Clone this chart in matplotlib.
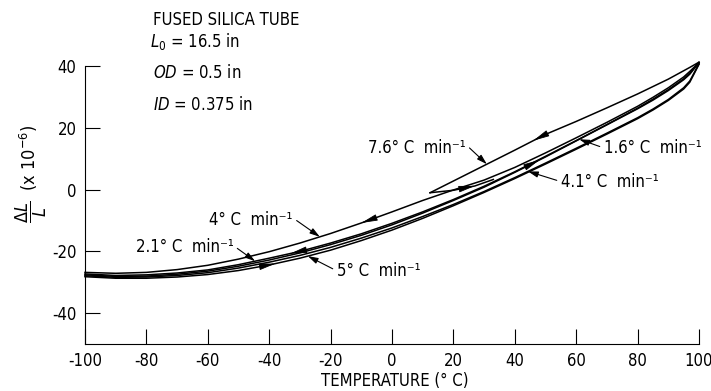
import matplotlib
matplotlib.use("Agg")
import matplotlib.pyplot as plt
import numpy as np

plt.rcParams['font.family'] = ['DejaVu Sans']
plt.rcParams['font.stretch'] = 'condensed'

# temperature grid (deg C)
temp = [-100, -90, -80, -70, -60, -50, -40, -30, -20, -10, 0,
        10, 20, 30, 40, 50, 60, 70, 80, 85, 90, 95, 97, 100]

# strain dL/L (x 1e-6) for each run
heat_41 = [-27.9, -28.4, -28.3, -27.8, -26.9, -25.4, -23.5, -21.3, -18.7, -15.7, -12.4,
           -8.7, -4.8, -0.6, 3.9, 8.6, 13.4, 18.3, 23.3, 26.1, 29.2, 33.0, 35.2, 40.8]
heat_16 = [-27.6, -28.1, -28.0, -27.4, -26.4, -24.8, -22.8, -20.5, -17.8, -14.8, -11.4,
           -7.6, -3.5, 0.8, 5.6, 10.6, 15.8, 21.0, 26.2, 29.0, 32.1, 35.6, 37.4, 41.1]
heat_5 = [-28.2, -28.7, -28.7, -28.3, -27.5, -26.2, -24.4, -22.2, -19.6, -16.5, -13.1,
          -9.3, -5.2, -0.9, 3.6, 8.3, 13.1, 18.0, 23.0, 25.8, 28.9, 32.6, 34.8, 40.6]
cool_21 = [-27.3, -27.8, -27.6, -27.0, -26.0, -24.3, -22.2, -20.0, -17.3, -14.3, -10.9,
           -7.2, -3.2, 1.1, 5.8, 10.8, 15.9, 21.1, 26.4, 29.3, 32.4, 35.9, 37.8, 41.2]
cool_4 = [-26.8, -27.1, -26.8, -25.9, -24.5, -22.5, -20.1, -17.3, -14.2, -10.8, -7.2,
          -3.5, -0.1, 3.1, 7.2, 11.9, 16.8, 21.8, 27.0, 29.9, 33.0, 36.5, 38.3, 41.2]

# 7.6 C/min run: cooled from 100 C down to about 12 C, then reheated
temp_76 = [100, 97, 90, 80, 70, 60, 50, 40, 30, 20, 12.4]
cool_76 = [41.3, 39.6, 35.8, 31.0, 26.5, 22.1, 17.9, 12.8, 7.8, 2.8, -1.0]
temp_76r = [12.4, 20, 27, 33]
heat_76r = [-1.0, -0.2, 1.2, 3.3]

fig = plt.figure(figsize=(7.11, 3.91), dpi=100)
ax = fig.add_axes([85 / 711, 47 / 391, 614 / 711, 284 / 391])

lw = 1.1
for y in (heat_41, heat_16, heat_5, cool_21, cool_4):
    ax.plot(temp, y, color='k', lw=lw, clip_on=False)
ax.plot(temp_76, cool_76, color='k', lw=lw, clip_on=False)
ax.plot(temp_76r, heat_76r, color='k', lw=lw, clip_on=False)


def at(tx, ty, t):
    if tx[0] > tx[-1]:
        tx, ty = tx[::-1], ty[::-1]
    return np.interp(t, tx, ty)


def run_arrow(tx, ty, t_head, back):
    # filled arrowhead sitting on a curve, pointing along it
    tt = t_head - back
    ax.annotate('', xy=(t_head, at(tx, ty, t_head)), xytext=(tt, at(tx, ty, tt)),
                arrowprops=dict(arrowstyle='-|>,head_length=1.0,head_width=0.2',
                                color='k', lw=0.6, shrinkA=0, shrinkB=0))


run_arrow(temp_76, cool_76, 46, -4)
run_arrow(temp_76r, heat_76r, 27, 4)
run_arrow(temp, heat_16, 48, 4)
run_arrow(temp, cool_4, -10, -4)
run_arrow(temp, cool_21, -33, -4)
run_arrow(temp, heat_5, -38, 4)

fs = 12


def leader(label, tx, ty, t_tip, pos, rel):
    ax.annotate(label, xy=(t_tip, at(tx, ty, t_tip)), xytext=pos, ha='left', va='center',
                fontsize=fs,
                arrowprops=dict(arrowstyle='-|>,head_length=0.5,head_width=0.15',
                                color='k', lw=0.8, shrinkA=1, shrinkB=0, relpos=rel))


leader('7.6° C  min⁻¹', temp_76, cool_76, 30.9, (-7.8, 13.5), (1, 0.7))
leader('1.6° C  min⁻¹', temp, heat_16, 61, (69, 13.5), (0, 0.5))
leader('4.1° C  min⁻¹', temp, heat_41, 44.3, (55, 2.6), (0, 0.5))
leader('4° C  min⁻¹', temp, cool_4, -23.5, (-59.5, -9.7), (1, 0.6))
leader('2.1° C  min⁻¹', temp, cool_21, -44.6, (-83.5, -18.7), (1, 0.6))
leader('5° C  min⁻¹', temp, heat_5, -27.4, (-18, -26.3), (0, 0.5))

ax.set_xlim(-100, 100)
ax.set_ylim(-50, 42)
ax.spines['top'].set_visible(False)
ax.spines['right'].set_visible(False)
ax.spines['left'].set_bounds(-50, 40)
ax.set_xticks(np.arange(-100, 101, 20))
ax.set_yticks([-40, -20, 0, 20, 40])
ax.set_yticklabels(['-40', '-20', '0', '20', '40'])
ax.set_xticklabels([str(v) for v in range(-100, 101, 20)])
ax.tick_params(direction='in', length=11, width=0.8, labelsize=fs, pad=6)
ax.set_xlabel('TEMPERATURE (° C)', fontsize=fs)
ax.xaxis.set_label_coords(0.505, -0.1)
ax.set_ylabel(r'$\dfrac{\Delta L}{L}$  (x 10$^{-6}$)', fontsize=13)
ax.yaxis.set_label_coords(-0.058, 0.6)

fig.text(153 / 711, 1 - 20 / 391, 'FUSED SILICA TUBE', fontsize=fs, va='center')
fig.text(150 / 711, 1 - 42 / 391, r'$L_0$ = 16.5 in', fontsize=fs, va='center')
fig.text(153 / 711, 1 - 73 / 391, r'$OD$ = 0.5 in', fontsize=fs, va='center')
fig.text(153 / 711, 1 - 105 / 391, r'$ID$ = 0.375 in', fontsize=fs, va='center')

fig.savefig('out.png', dpi=100)
